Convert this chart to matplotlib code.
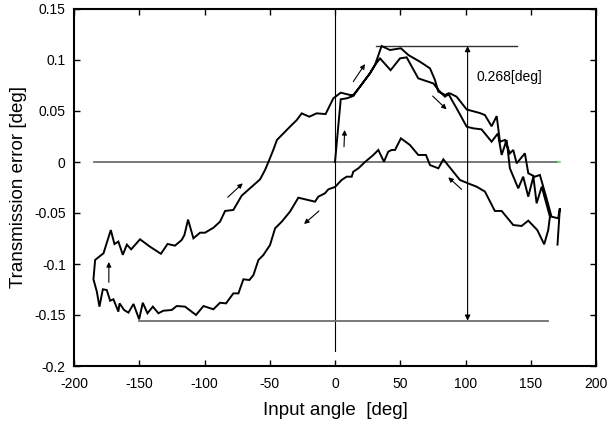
import matplotlib
matplotlib.use("Agg")
import matplotlib.pyplot as plt

plt.rcParams['font.family'] = ['Liberation Sans', 'DejaVu Sans']
plt.rcParams['axes.unicode_minus'] = False

# Initial run: from 0 deg to the right end
a_x = [0, 4.4, 8.9, 14, 19.1, 26.8, 30.6, 35.7, 42.1, 50.5, 56.2, 65.1, 72.8, 76.6, 79.2,
       84.3, 86.8, 89.4, 93.2, 100.9, 106, 112.3, 120, 124.8, 127.7, 131.5, 134, 140.4,
       144.2, 148.1, 152, 154.5, 158.4, 164.7]
a_y = [0, 0.0615, 0.0624, 0.0647, 0.0738, 0.087, 0.095, 0.1137, 0.1098, 0.1115, 0.1049,
       0.0983, 0.0918, 0.0804, 0.069, 0.0657, 0.0673, 0.061, 0.0526, 0.0346, 0.033, 0.032,
       0.0199, 0.028, 0.0069, 0.0216, -0.0062, -0.0258, -0.0144, -0.034, -0.0144, -0.0405,
       -0.0242, -0.0536]

# Return run (lower branch), right to left
b_x = [163.4, 160.3, 155, 148.1, 143, 136.6, 127.7, 122.5, 114.9, 108.5, 102.1, 95.7, 83,
       79.2, 72.8, 69.7, 63.8, 57.4, 50.5, 46, 43.4, 40.8, 37.5, 33.2, 29.4, 23, 17.9, 14,
       12.8, 8.9, 5.1, 0, -5.1, -7.7, -12.8, -15.3, -28.1, -34.5, -40.8, -45.9, -49.8,
       -54.9, -58.7, -62.5, -65.6, -70.2, -74, -77.9, -83.5, -88.1, -93.2, -100.8, -106.5,
       -114.9, -121.3, -125.1, -131.5, -135.3, -139.6, -143.7, -147.3, -150.1, -154.4,
       -158.3, -161.6, -165.1, -166, -169.8, -172.3, -174.9, -177.9, -180.5, -182.5, -185.1]
b_y = [-0.0667, -0.0807, -0.0667, -0.0575, -0.0627, -0.0618, -0.048, -0.048, -0.029,
       -0.0242, -0.021, -0.0176, 0.0026, -0.0062, -0.003, 0.0069, 0.0069, 0.0167, 0.0232,
       0.0118, 0.0118, 0.0101, 0.0003, 0.0118, 0.0069, 0, -0.0062, -0.0095, -0.0144,
       -0.0144, -0.0176, -0.0245, -0.0268, -0.0307, -0.034, -0.0389, -0.035, -0.0487,
       -0.0585, -0.065, -0.0814, -0.0912, -0.0961, -0.1108, -0.1157, -0.115, -0.1288,
       -0.1288, -0.1386, -0.138, -0.1444, -0.1412, -0.15, -0.1418, -0.1412, -0.1451,
       -0.1458, -0.1483, -0.1418, -0.1483, -0.138, -0.1542, -0.1392, -0.1477, -0.1451,
       -0.1386, -0.1467, -0.1346, -0.136, -0.1255, -0.1248, -0.1418, -0.1271, -0.115]

# Forward run (upper branch), left to right
c_x = [-183.8, -177.4, -171.8, -169, -166, -162.6, -159.5, -156.2, -149.4, -141.8, -133.4,
       -128.3, -122.6, -117.5, -115.4, -112.6, -108.5, -103.4, -99.6, -93.2, -88.1, -84.2,
       -77.9, -71.5, -65.1, -57.4, -53.6, -50.6, -47.3, -44.5, -39.6, -34.5, -29.4, -25.5,
       -19.7, -14.1, -7.2, -1.3, 4.4, 11.5, 14, 19.1, 26.8, 30.6, 34.5, 42.6, 49.8, 54.9,
       63.8, 75.4, 79.2, 84.3, 88.1, 93.2, 100.9, 111, 114.9, 120, 123.9, 126.4, 130.2,
       134, 136.6, 139.2, 145.5, 148.1, 153.2, 157, 162.1, 165.9, 171, 172.3, 170.5]
c_y = [-0.096, -0.0895, -0.0667, -0.0804, -0.078, -0.091, -0.081, -0.0856, -0.0758,
       -0.083, -0.09, -0.0804, -0.082, -0.0765, -0.0716, -0.0565, -0.0748, -0.0693,
       -0.0693, -0.0645, -0.0585, -0.048, -0.047, -0.033, -0.0258, -0.017, -0.0078,
       0.0013, 0.0118, 0.0216, 0.028, 0.0346, 0.041, 0.0477, 0.0444, 0.0477, 0.047,
       0.0624, 0.068, 0.0657, 0.0657, 0.0738, 0.087, 0.095, 0.1016, 0.09, 0.1016, 0.1026,
       0.082, 0.077, 0.0706, 0.064, 0.0673, 0.064, 0.0515, 0.048, 0.046, 0.035, 0.045,
       0.0199, 0.0216, 0.0085, 0.0118, -0.0013, 0.0085, -0.011, -0.0144, -0.0127, -0.0356,
       -0.0536, -0.0552, -0.0454, -0.081]

x_ticks = [-200, -150, -100, -50, 0, 50, 100, 150, 200]
y_ticks = [-0.2, -0.15, -0.1, -0.05, 0, 0.05, 0.1, 0.15]
y_tick_labels = ['-0.2', '-0.15', '-0.1', '-0.05', '0', '0.05', '0.1', '0.15']

peak_y = 0.1137
trough_y = -0.1556

fig = plt.figure(figsize=(6.07, 4.23), dpi=100)
ax = fig.add_axes([74/607, 1-366/423, (596-74)/607, (366-9)/423])

# reference lines
ax.plot([-185, 172], [0, 0], color='#6e6e6e', lw=1.3)
ax.plot([170.5, 172.5], [0, 0], color='#66ee66', lw=1.3)
ax.plot([0, 0], [0.144, -0.185], color='black', lw=0.8)
ax.plot([31.4, 139.2], [peak_y, peak_y], color='#333333', lw=1.0)
ax.plot([-150, 163], [trough_y, trough_y], color='#6e6e6e', lw=1.3)

# data
xs = a_x + b_x + c_x
ys = a_y + b_y + c_y
ax.plot(xs, ys, color='black', lw=1.4, solid_joinstyle='miter')

# range arrow
ax.annotate('', xy=(101.6, peak_y), xytext=(101.6, trough_y),
            arrowprops=dict(arrowstyle='<|-|>', lw=0.8, color='black',
                            mutation_scale=8, shrinkA=0, shrinkB=0))
ax.text(108.5, 0.0836, '0.268[deg]', fontsize=10, va='center', ha='left')

# direction arrows
arrows = [((-173.3, -0.118), (-173.3, -0.098)),
          ((-82.2, -0.0346), (-70.7, -0.0209)),
          ((-12.3, -0.048), (-23.7, -0.0608)),
          ((6.9, 0.015), (7.4, 0.0314)),
          ((14, 0.0788), (23, 0.096)),
          ((74.8, 0.0647), (85.5, 0.0516)),
          ((97, -0.0268), (86.8, -0.015))]
for (tx, ty), (hx, hy) in arrows:
    ax.annotate('', xy=(hx, hy), xytext=(tx, ty),
                arrowprops=dict(arrowstyle='-|>', lw=0.8, color='black',
                                mutation_scale=7, shrinkA=0, shrinkB=0))

ax.set_xlim(-200, 200)
ax.set_ylim(-0.2, 0.15)
ax.set_xticks(x_ticks)
ax.set_xticklabels([str(t) for t in x_ticks])
ax.set_yticks(y_ticks)
ax.set_yticklabels(y_tick_labels)
ax.tick_params(direction='in', top=True, right=True, length=4, width=1,
               labelsize=10)
ax.tick_params(axis='x', pad=8)
ax.tick_params(axis='y', pad=6)
for s in ax.spines.values():
    s.set_linewidth(1.5)

ax.set_xlabel('Input angle  [deg]', fontsize=13.5, labelpad=8)
ax.set_ylabel('Transmission error [deg]', fontsize=13.5, labelpad=5)

fig.savefig('out.png', dpi=100)
